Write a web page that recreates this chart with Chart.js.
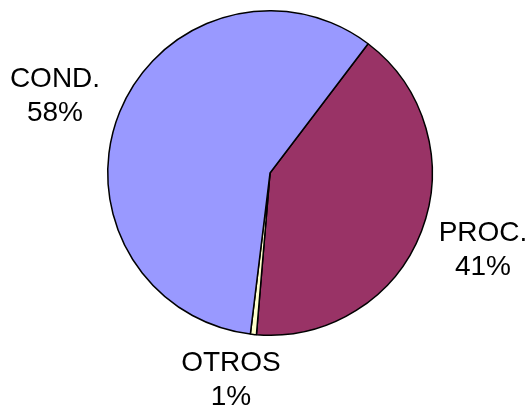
<!DOCTYPE html>
<html>
<head>
<meta charset="utf-8">
<script src="https://cdn.jsdelivr.net/npm/chart.js@4"></script>
<style>
html,body{margin:0;padding:0;background:#fff;}
#wrap{width:531px;height:408px;position:relative;}
</style>
</head>
<body>
<div id="wrap"><canvas id="c" width="531" height="408"></canvas></div>
<script>
const categories = ["PROC.", "OTROS", "COND."];
const values = [41.0, 0.6, 58.4];
const percentLabels = ["41%", "1%", "58%"];
const colors = ["#993366", "#FFFFCC", "#9999FF"];

// label anchor positions (text centres) per category
const labelPos = [
  {x: 483, y: 250},
  {x: 231, y: 380},
  {x: 55, y: 96}
];

const labelPlugin = {
  id: 'pieLabels',
  afterDatasetsDraw(chart) {
    const ctx = chart.ctx;
    ctx.save();
    ctx.fillStyle = '#000';
    ctx.font = '28px "Liberation Sans", Arial, sans-serif';
    ctx.textAlign = 'center';
    ctx.textBaseline = 'middle';
    categories.forEach((c, i) => {
      const p = labelPos[i];
      ctx.fillText(c, p.x, p.y - 17);
      ctx.fillText(percentLabels[i], p.x, p.y + 17);
    });
    ctx.restore();
  }
};

new Chart(document.getElementById('c'), {
  type: 'pie',
  data: {
    labels: categories,
    datasets: [{
      data: values,
      backgroundColor: colors,
      borderColor: '#000',
      borderWidth: 1.5,
      borderAlign: 'center'
    }]
  },
  options: {
    responsive: false,
    animation: false,
    rotation: 37.2,
    layout: {padding: {top: 10, bottom: 72, left: 107, right: 98}},
    plugins: {legend: {display: false}, tooltip: {enabled: false}}
  },
  plugins: [labelPlugin]
});
</script>
</body>
</html>
